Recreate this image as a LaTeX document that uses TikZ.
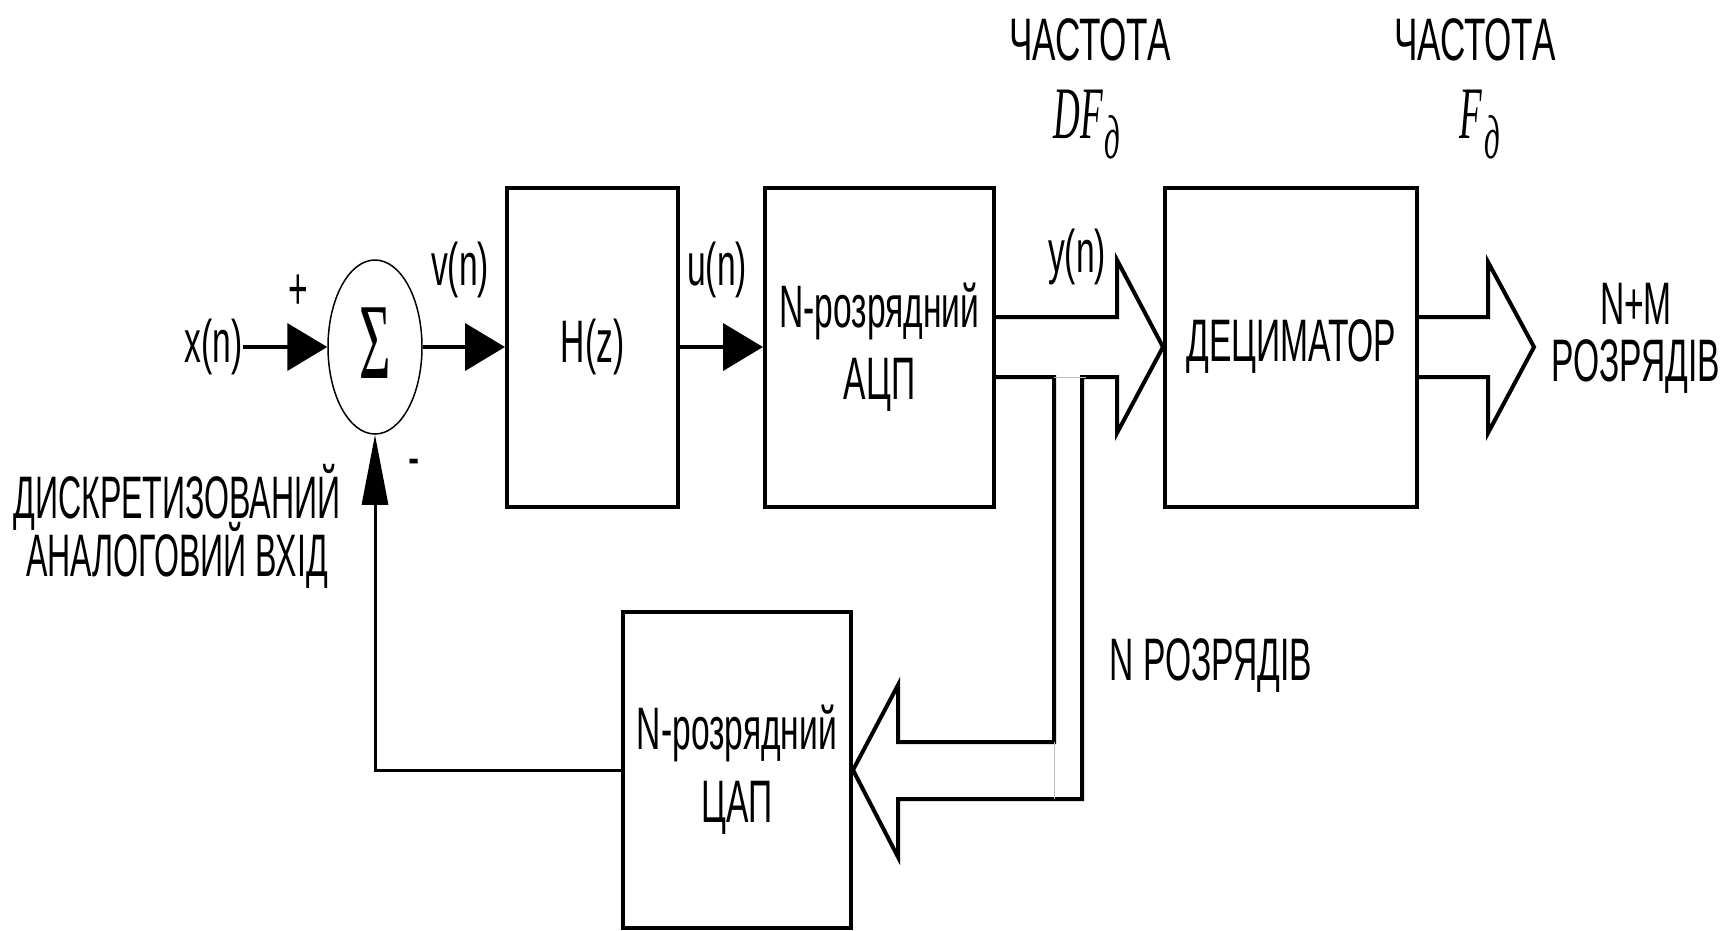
\documentclass[tikz,border=0pt]{standalone}
\usepackage{fontspec}
\setmainfont{Liberation Sans}[FakeStretch=0.56]
\newfontfamily\narrowfont{Liberation Sans}[FakeStretch=0.535]
\newfontfamily\widefont{Liberation Sans}[FakeStretch=0.585]
\newfontfamily\formfont{Liberation Serif}[FakeStretch=0.5]
\usetikzlibrary{arrows.meta,positioning,calc,shapes.geometric}

\begin{document}
\begin{tikzpicture}[x=1pt,y=-1pt,font=\fontsize{60}{64}\selectfont,
  blk/.style={draw,line width=4pt,inner sep=0pt,align=center,minimum height=319pt},
  sig/.style={line width=4pt,-{Triangle[length=40pt,width=47pt]}},
  bus/.style={line width=4pt,line join=miter}]
 \useasboundingbox (0,0) rectangle (1726,930);
 \node[draw,ellipse,line width=1.5pt,minimum width=94pt,minimum height=174pt,inner sep=0pt] (sum) at(375,347)
  {\fontsize{108}{108}\formfont\raisebox{8pt}{Σ}};
 \node[blk,minimum width=171pt] (hz) at(592.5,347){H(z)};
 \node[blk,minimum width=229pt] (adc) at(879.5,347){N-розрядний\\[8pt]АЦП};
 \node[blk,minimum width=252pt] (dec) at(1291,347){ДЕЦИМАТОР};
 \node[blk,minimum width=228pt,minimum height=316pt] (dac) at(737,770){N-розрядний\\[9pt]ЦАП};
 \node[anchor=east,inner sep=0pt] (xn) at(243,347){x(n)};
 \node (plus) at(298,292){+};
 \node (minus) at(414,468){-};
 \node (vn) at(460,270){v(n)};
 \node (un) at(717,270){u(n)};
 \node (yn) at(1077,257){y(n)};
 \node[align=center,font=\fontsize{60}{64}\narrowfont] (inp) at(177,526){ДИСКРЕТИЗОВАНИЙ\\[-9pt]АНАЛОГОВИЙ ВХІД};
 \node[font=\fontsize{60}{64}\widefont] (f1) at(1090,40){ЧАСТОТА};
 \node[font=\fontsize{60}{64}\widefont] (f2) at(1475,40){ЧАСТОТА};
 \node (df1) at(1087,125){\fontsize{74}{74}\formfont\itshape DF\kern2pt\raisebox{-20pt}{\fontsize{62}{62}\selectfont д}};
 \node (df2) at(1480,125){\fontsize{74}{74}\formfont\itshape F\kern2pt\raisebox{-20pt}{\fontsize{62}{62}\selectfont д}};
 \node[align=center] (nm) at(1636,338){N+M\\[-7pt]РОЗРЯДІВ};
 \node (nb) at(1211,666){N РОЗРЯДІВ};
 \draw[sig] (xn.east) -- (sum.west);
 \draw[sig] (sum) -- (hz);
 \draw[sig] (hz) -- (adc);
 \draw[line width=3pt,-{Triangle[length=70pt,width=26pt]}] (dac.west) -| (sum.south);
 \draw[bus] ($(adc.east)+(0,-30)$) -- ($(dec.west)+(-46,-30)$) -- ++(0,-57) -- (dec.west)
  -- ($(dec.west)+(-46,86)$) -- ++(0,-56) -- ++(-35,0) |- ($(dac.east)+(45,29)$) -- ++(0,58)
  -- (dac.east) -- ($(dac.east)+(45,-85)$) -- ++(0,57) -| ($(adc.east)+(58,30)$) -- ($(adc.east)+(0,30)$);
 \draw[lightgray,line width=1pt] ($(adc.east)+(58,30)$) -- ++(32,0);
 \draw[lightgray,line width=1pt] ($(dac.east)+(201,-28)$) -- ++(0,57);
 \draw[bus] ($(dec.east)+(0,-30)$) -- ++(69,0) -- ++(0,-55) -- ++(46,85) -- ++(-46,86) -- ++(0,-56) -- ++(-69,0);
\end{tikzpicture}
\end{document}
